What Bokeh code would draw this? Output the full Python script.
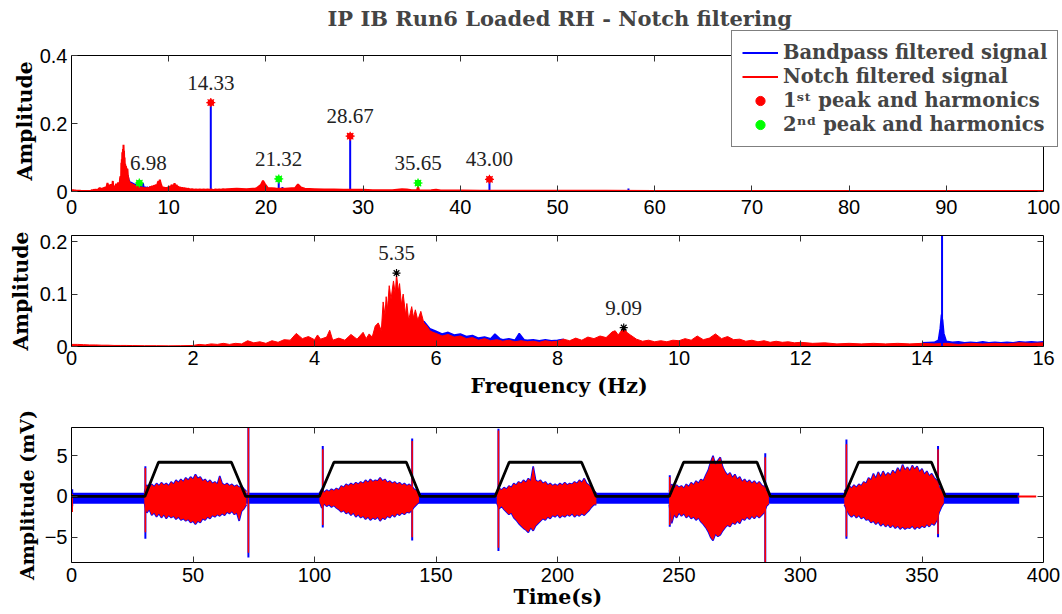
import numpy as np
from bokeh.plotting import figure
from bokeh.models import (Range1d, FixedTicker, LinearAxis, Legend, LegendItem,
                          ColumnDataSource, CustomLabelingPolicy, Title)
from bokeh.layouts import column
from bokeh.embed import file_html
from bokeh.resources import INLINE
from bokeh.core.properties import value

TITLE = "IP IB Run6 Loaded RH - Notch filtering"

# ---------------- spectrum data ----------------
SPEC_F = [0.0, 0.1, 0.2, 0.3, 0.4, 0.5, 0.6, 0.7, 0.8, 0.9, 1.0, 1.2, 1.4, 1.6, 1.8,
          2.0, 2.1, 2.2, 2.3, 2.4, 2.5, 2.6, 2.7, 2.8, 2.9, 3.0, 3.1, 3.2, 3.3, 3.4,
          3.5, 3.6, 3.7, 3.8, 3.9, 4.0, 4.05, 4.1, 4.2, 4.25, 4.3, 4.4, 4.5, 4.6, 4.7,
          4.8, 4.85, 4.9, 4.95, 5.0, 5.05, 5.1, 5.13, 5.16, 5.18, 5.2, 5.23, 5.26, 5.3,
          5.33, 5.35, 5.38, 5.4, 5.43, 5.46, 5.5, 5.52, 5.55, 5.6, 5.63, 5.66, 5.7,
          5.75, 5.8, 5.85, 5.9, 5.95, 6.0, 6.1, 6.2, 6.3, 6.4, 6.5, 6.6, 6.7, 6.8,
          6.9, 7.0, 7.1, 7.2, 7.3, 7.4, 7.5, 7.6, 7.7, 7.8, 7.9, 8.0, 8.1, 8.2, 8.3,
          8.4, 8.5, 8.6, 8.7, 8.8, 8.9, 8.95, 9.0, 9.05, 9.09, 9.15, 9.2, 9.3, 9.4,
          9.5, 9.6, 9.7, 9.8, 9.9, 10.0, 10.1, 10.2, 10.3, 10.4, 10.5, 10.6, 10.7,
          10.8, 10.9, 11.0, 11.1, 11.2, 11.3, 11.4, 11.5, 11.6, 11.7, 11.8, 11.9,
          12.0, 12.2, 12.4, 12.6, 12.8, 13.0, 13.2, 13.4, 13.6, 13.8, 14.0, 14.2,
          14.4, 14.6, 14.8, 15.0, 15.2, 15.4, 15.6, 15.8, 16.0]
SPEC_RED = [0.004, 0.004, 0.0035, 0.003, 0.003, 0.0025, 0.0025, 0.002, 0.002, 0.002,
            0.0018, 0.0015, 0.0015, 0.0012, 0.0015,
            0.002, 0.004, 0.003, 0.005, 0.004, 0.006, 0.004, 0.006, 0.005, 0.011,
            0.007, 0.009, 0.006, 0.011, 0.008,
            0.013, 0.012, 0.025, 0.015, 0.019, 0.013, 0.022, 0.014, 0.018, 0.031,
            0.012, 0.016, 0.012, 0.023, 0.014,
            0.027, 0.015, 0.024, 0.018, 0.039, 0.045, 0.03, 0.085, 0.06, 0.095,
            0.07, 0.116, 0.09, 0.125,
            0.1, 0.138, 0.105, 0.12, 0.08, 0.1, 0.06, 0.082, 0.05, 0.076, 0.055, 0.07,
            0.05, 0.067, 0.045, 0.039, 0.03, 0.027, 0.025, 0.02, 0.023, 0.018, 0.02,
            0.015, 0.017, 0.012, 0.015,
            0.011, 0.013, 0.01, 0.012, 0.009, 0.011, 0.009, 0.01, 0.008, 0.011,
            0.009, 0.01, 0.014, 0.011, 0.016,
            0.012, 0.018, 0.015, 0.02, 0.017, 0.028, 0.03, 0.022, 0.03, 0.035,
            0.026, 0.022, 0.014, 0.01,
            0.012, 0.009, 0.011, 0.009, 0.012, 0.011, 0.015, 0.012, 0.02, 0.013,
            0.016, 0.024, 0.015,
            0.019, 0.013, 0.014, 0.01, 0.012, 0.009, 0.011, 0.008, 0.01, 0.008,
            0.009, 0.007,
            0.008, 0.006, 0.007, 0.005, 0.006, 0.005, 0.006, 0.005, 0.006, 0.005,
            0.006, 0.005,
            0.006, 0.004, 0.006, 0.005, 0.006, 0.005, 0.007, 0.006, 0.007]

SPEC_F_HIGH = [17, 18, 19, 19.5, 19.7, 19.9, 20.2, 21, 22, 23, 23.3, 23.6, 24, 25,
               26, 27, 28, 29, 30, 31, 32, 33, 34, 34.5, 35, 35.55, 35.65, 35.75,
               36, 37, 37.5, 38, 39, 40, 42, 44, 46, 48, 50, 55, 60, 65, 70, 75,
               80, 85, 90, 95, 100]
SPEC_RED_HIGH = [0.008, 0.007, 0.009, 0.02, 0.032, 0.022, 0.01, 0.009, 0.008, 0.01,
                 0.021, 0.012, 0.008, 0.007, 0.006, 0.006, 0.005, 0.005, 0.005,
                 0.004, 0.004, 0.004, 0.007, 0.006, 0.004, 0.004, 0.015, 0.004,
                 0.003, 0.004, 0.005, 0.003, 0.003, 0.003, 0.002, 0.002, 0.002,
                 0.002, 0.002, 0.002, 0.0015, 0.0015, 0.0015, 0.0015, 0.0015,
                 0.0015, 0.0015, 0.0015, 0.0015]

BLUE_F_MID = [5.8, 5.9, 6.0, 6.1, 6.2, 6.3, 6.4, 6.5, 6.6, 6.7, 6.8, 6.9, 6.97,
              7.05, 7.1, 7.2, 7.3, 7.37, 7.45, 7.5, 7.6, 7.7, 7.8, 7.9, 8.0, 8.1]
BLUE_MID = [0.048, 0.034, 0.029, 0.024, 0.027, 0.022, 0.024, 0.019, 0.021, 0.016,
            0.018, 0.015, 0.024, 0.015, 0.013, 0.015, 0.012, 0.025, 0.013, 0.012,
            0.013, 0.011, 0.013, 0.011, 0.012, 0.014]

BLUE_F_14 = [14.0, 14.2, 14.27, 14.3, 14.32, 14.34, 14.36, 14.4, 14.5, 14.6, 14.7,
             14.8, 14.9, 15.0, 15.1, 15.2, 15.3, 15.4, 15.5, 15.6, 15.7, 15.8,
             15.9, 16.0]
BLUE_14 = [0.007, 0.008, 0.012, 0.035, 0.061, 0.05, 0.025, 0.01, 0.008, 0.009,
           0.007, 0.008, 0.007, 0.009, 0.007, 0.008, 0.007, 0.008, 0.007, 0.009,
           0.008, 0.009, 0.008, 0.009]

HARM_F = [6.98, 14.33, 21.32, 21.7, 28.67, 43.00, 50.0, 57.3]
HARM_BLUE = [0.022, 0.262, 0.028, 0.013, 0.163, 0.036, 0.004, 0.009]

PEAK1_F = [14.33, 28.67, 43.00]
PEAK1_A = [0.262, 0.163, 0.036]
PEAK1_TXT = ["14.33", "28.67", "43.00"]
PEAK2_F = [6.98, 21.32, 35.65]
PEAK2_A = [0.025, 0.037, 0.025]
PEAK2_TXT = ["6.98", "21.32", "35.65"]

LOW_PEAK_F = [5.35, 9.09]
LOW_PEAK_A = [0.140, 0.036]
LOW_PEAK_TXT = ["5.35", "9.09"]

# ---------------- time signal ----------------
BURST_START = [30, 102, 175, 246, 318]
BURST_UP = [
    [0.5, 1.4, 1.0, 1.5, 1.2, 1.6, 1.3, 1.7, 1.4, 1.6, 1.3, 1.8, 1.5, 2.0, 1.7, 2.1,
     1.8, 2.3, 2.0, 2.4, 2.1, 2.7, 2.2, 2.4, 1.9, 2.1, 1.7, 2.0, 1.6, 1.8, 1.5, 2.5,
     1.6, 1.4, 1.6, 1.3, 1.5, 1.2, 1.4, 1.1, 1.3, 0.9, 0.6],
    [0.4, 0.9, 0.5, 0.8, 0.6, 0.9, 0.7, 1.0, 0.8, 1.3, 1.1, 1.5, 1.3, 1.6, 1.4, 1.7,
     1.5, 1.8, 1.6, 2.0, 1.7, 2.1, 1.8, 2.0, 1.9, 2.3, 1.9, 2.1, 1.7, 1.9, 1.6, 1.8,
     1.5, 1.7, 1.4, 1.6, 1.3, 1.5, 1.2, 0.9, 0.7, 0.5],
    [0.5, 1.0, 0.8, 1.1, 0.9, 1.3, 1.1, 1.6, 1.4, 1.8, 1.6, 2.0, 1.7, 2.2, 1.9, 3.7,
     2.0, 1.8, 2.0, 1.6, 1.8, 1.4, 1.6, 1.3, 1.5, 1.3, 1.6, 1.4, 1.7, 1.4, 1.6, 1.5,
     1.8, 1.6, 2.0, 1.7, 2.2, 1.6, 1.4, 1.0, 0.7, 0.4],
    [0.6, 1.5, 1.0, 1.4, 1.1, 1.3, 1.0, 1.5, 1.2, 1.7, 1.4, 1.9, 1.6, 2.1, 1.9, 2.6,
     3.2, 4.2, 5.0, 3.9, 4.4, 4.8, 3.6, 3.0, 2.6, 2.9, 2.3, 2.7, 2.1, 2.4, 1.8, 2.1,
     1.7, 2.0, 1.6, 1.9, 1.5, 1.8, 1.4, 1.2, 0.7, 0.5],
    [0.6, 1.0, 1.3, 1.0, 1.4, 1.1, 1.5, 1.3, 1.8, 1.6, 2.3, 2.0, 2.8, 2.2, 3.0, 2.4,
     3.1, 2.5, 2.9, 2.6, 3.2, 2.8, 3.5, 3.0, 3.9, 3.2, 3.6, 3.1, 3.8, 3.3, 3.7, 3.0,
     3.4, 2.7, 3.1, 2.5, 2.8, 2.3, 2.0, 1.2, 0.8, 0.5],
]
BURST_LO = [
    [-0.8, -2.0, -1.6, -2.3, -2.0, -2.5, -2.1, -2.6, -2.2, -2.7, -2.3, -2.6, -2.4,
     -2.8, -2.5, -2.9, -2.7, -3.0, -2.8, -3.2, -3.0, -3.4, -3.0, -3.2, -2.7, -2.9,
     -2.5, -2.7, -2.3, -2.5, -2.2, -2.4, -2.1, -2.3, -1.9, -2.1, -1.8, -2.2, -2.0,
     -3.0, -1.8, -1.5, -1.0],
    [-0.6, -1.4, -0.9, -1.2, -1.0, -1.3, -1.1, -1.4, -1.6, -1.9, -1.7, -2.1, -1.9,
     -2.3, -2.0, -2.5, -2.2, -2.6, -2.4, -2.8, -2.5, -2.9, -2.6, -2.8, -2.5, -3.0,
     -2.6, -2.8, -2.4, -2.6, -2.2, -2.5, -2.1, -2.3, -2.0, -2.2, -1.9, -2.0, -1.7,
     -1.3, -1.0, -0.7],
    [-0.8, -1.5, -1.2, -1.6, -1.9, -2.2, -2.0, -2.6, -2.9, -3.3, -3.6, -3.9, -4.1,
     -4.4, -3.8, -4.2, -3.6, -3.3, -3.0, -2.7, -2.9, -2.5, -2.7, -2.3, -2.5, -2.2,
     -2.6, -2.3, -2.5, -2.2, -2.4, -2.1, -2.5, -2.2, -2.4, -2.1, -2.3, -2.0, -1.7,
     -1.3, -1.0, -1.0],
    [-1.0, -3.3, -2.2, -2.6, -2.0, -2.4, -2.1, -2.6, -2.3, -2.7, -2.5, -2.9, -2.6,
     -3.1, -3.4, -3.8, -4.3, -5.0, -5.4, -4.6, -4.9, -4.7, -4.2, -3.8, -3.5, -3.7,
     -3.2, -3.4, -3.0, -3.3, -2.7, -2.9, -2.5, -2.8, -2.4, -2.7, -2.3, -2.6, -2.3,
     -2.0, -1.2, -0.9],
    [-1.0, -1.6, -2.2, -2.5, -2.2, -2.6, -2.3, -2.7, -2.5, -2.9, -2.8, -3.2, -3.0,
     -3.4, -3.1, -3.6, -3.3, -3.7, -3.4, -3.8, -3.5, -3.9, -3.6, -4.0, -3.7, -4.0,
     -3.8, -3.9, -3.6, -4.0, -3.7, -3.9, -3.6, -3.8, -3.4, -3.7, -3.3, -3.5, -3.0,
     -2.0, -1.3, -0.8],
]
SPIKE_T = [0.3, 30.4, 72.8, 103.4, 140.2, 175.7, 246.2, 285.5, 318.9, 356.6]
SPIKE_BLUE_TOP = [0.9, 3.7, 8.45, 6.2, 7.1, 8.3, 2.6, 5.3, 7.0, 6.2]
SPIKE_BLUE_BOT = [-1.2, -5.2, -7.5, -3.8, -5.4, -6.7, -3.7, -8.1, -5.2, -5.0]
SPIKE_RED_TOP = [0.3, 3.5, 8.45, 5.8, 6.8, 8.1, 2.4, 4.8, 6.4, 5.8]
SPIKE_RED_BOT = [-1.9, -4.4, -6.9, -3.5, -5.0, -6.3, -3.5, -8.1, -4.9, -4.6]

BLUE_BASE_T = [0, 390]
BLUE_BASE_UP = [0.45, 0.45]
BLUE_BASE_LO = [-0.9, -0.9]
RED_TAIL_T = [389.5, 397]
RED_TAIL_Y = [0, 0]

TRAP_T = [0, 30.2, 35.8, 65.8, 71.7, 102, 108, 137.8, 143.5, 174.3, 180.1, 209.9,
          215.9, 246, 251.9, 282.1, 287.6, 317.9, 323.9, 353.9, 359.6, 389.3]
TRAP_Y = [0, 0, 4.2, 4.2, 0, 0, 4.2, 4.2, 0, 0, 4.2, 4.2, 0, 0, 4.2, 4.2, 0, 0,
          4.2, 4.2, 0, 0]

# axis limits
X1 = (0, 100)
Y1 = (0, 0.4)
X2 = (0, 16)
Y2 = (0, 0.2117)
X3 = (0, 400)
Y3 = (-8.1, 8.46)

RED = "#ff0000"
BLUE = "#0000ff"
GREEN = "#00ff00"
SERIF = "DejaVu Serif"
NUMFONT = "Liberation Serif"
SANS = "Liberation Sans"
LABEL_SIZE = "20.5px"

# page geometry (pixels): the axes box of every panel spans BOX_L..BOX_R;
# the Bokeh frames reach FRAME_R so that the legend can overhang the box.
BOX_L, BOX_R, FRAME_R, PAGE_W = 71, 1043, 1058, 1062

NO_LABELS = CustomLabelingPolicy(code="""
for (const i of indices) { indices.unset(i) }
return indices
""")


def extend(rng, box_px, frame_px):
    return (rng[0], rng[0] + (rng[1] - rng[0]) * frame_px / box_px)


def mirror_axis(ticks, loc=None, bounds="auto"):
    ax = LinearAxis(ticker=FixedTicker(ticks=ticks), major_tick_in=6,
                    major_tick_out=0, minor_tick_line_color=None,
                    major_label_text_font_size="1px", major_label_standoff=0,
                    major_label_policy=NO_LABELS, bounds=bounds,
                    axis_line_color="black", major_tick_line_color="#333333")
    if loc is not None:
        ax.fixed_location = loc
    return ax


def side_title(text, offset, valign, standoff=0):
    return Title(text=text, align="left", offset=offset, vertical_align=valign,
                 standoff=standoff, text_font=SERIF, text_font_style="bold",
                 text_font_size=LABEL_SIZE, text_color="black")


def boxed_fig(height, X, Y, top, bottom, xticks, yticks, xstand, yover, y_ext=None):
    xr = extend(X, BOX_R - BOX_L, FRAME_R - BOX_L)
    yr = Y if y_ext is None else y_ext
    p = figure(width=PAGE_W, height=height, x_range=Range1d(*xr),
               y_range=Range1d(*yr), output_backend="svg", toolbar_location=None,
               min_border_left=BOX_L, min_border_right=PAGE_W - FRAME_R,
               min_border_top=top, min_border_bottom=bottom)
    p.xgrid.visible = False
    p.ygrid.visible = False
    p.outline_line_color = None
    p.background_fill_color = "white"
    p.border_fill_color = "white"
    xa = p.xaxis[0]
    ya = p.yaxis[0]
    for ax, ticks in ((xa, xticks), (ya, yticks)):
        ax.ticker = FixedTicker(ticks=ticks)
        ax.major_tick_in = 6
        ax.major_tick_out = 0
        ax.minor_tick_line_color = None
        ax.axis_line_color = "black"
        ax.major_tick_line_color = "#333333"
        ax.major_label_text_font = SANS
        ax.major_label_text_font_size = "20px"
        ax.major_label_text_color = "black"
        ax.axis_label_text_font = SERIF
        ax.axis_label_text_font_style = "bold"
        ax.axis_label_text_font_size = LABEL_SIZE
        ax.axis_label_text_color = "black"
    xa.bounds = X
    ya.bounds = Y
    xa.major_label_standoff = xstand
    ya.major_label_standoff = 4
    ya.major_label_overrides = yover
    # top and right sides of the box (ticks pointing inwards)
    p.add_layout(mirror_axis(xticks, None if y_ext is None else Y[1], X), "above")
    p.add_layout(mirror_axis(yticks, X[1], Y), "right")
    return p


# ---------------- plot 1 : full spectrum ----------------
P1_H, F1_TOP, F1_BOTTOM, BOX1_TOP = 231, 30, 191, 55.3
y1_ext = extend(Y1, F1_BOTTOM - BOX1_TOP, F1_BOTTOM - F1_TOP)
p1 = boxed_fig(P1_H, X1, Y1, F1_TOP, P1_H - F1_BOTTOM, list(range(0, 101, 10)),
               [0, 0.2, 0.4], 8, {0: "0", 0.2: "0.2", 0.4: "0.4"}, y_ext=y1_ext)
p1.title.text = TITLE
p1.title.align = "left"
p1.title.offset = 327 - BOX_L
p1.title.text_font = SERIF
p1.title.text_font_style = "bold"
p1.title.text_font_size = "21px"
p1.title.standoff = 0
# y label of the (shorter) axes box, placed along the box
p1.add_layout(side_title("Amplitude", F1_BOTTOM - 180, "bottom"), "left")

full_f = SPEC_F + SPEC_F_HIGH
full_a = SPEC_RED + SPEC_RED_HIGH
p1.varea(x=BLUE_F_MID, y1=0, y2=BLUE_MID, fill_color=BLUE)
p1.line(x=BLUE_F_MID, y=BLUE_MID, line_color=BLUE, line_width=1.5)
r_blue = p1.segment(x0=HARM_F, y0=[0] * len(HARM_F), x1=HARM_F, y1=HARM_BLUE,
                    line_color=BLUE, line_width=2)
p1.varea(x=full_f, y1=0, y2=full_a, fill_color=RED)
r_red = p1.line(x=full_f, y=full_a, line_color=RED, line_width=2)
r_dot1 = p1.scatter(x=PEAK1_F, y=PEAK1_A, marker="circle", size=6, fill_color=RED,
                    line_color=RED)
r_dot2 = p1.scatter(x=PEAK2_F, y=PEAK2_A, marker="circle", size=6, fill_color=GREEN,
                    line_color=GREEN)
p1.scatter(x=PEAK1_F, y=PEAK1_A, marker="asterisk", size=9, line_color=RED,
           line_width=1.2)
p1.scatter(x=PEAK2_F, y=PEAK2_A, marker="asterisk", size=9, line_color=GREEN,
           line_width=1.2)
lab_dx_1 = [0, 0, 0]
lab_dx_2 = [9, 0, 0]
src_l1 = ColumnDataSource(dict(x=PEAK1_F + PEAK2_F, y=PEAK1_A + PEAK2_A,
                               t=PEAK1_TXT + PEAK2_TXT, dx=lab_dx_1 + lab_dx_2))
p1.text(x="x", y="y", text="t", x_offset="dx", y_offset=-20, source=src_l1,
        text_font=value(NUMFONT), text_font_size="21px", text_align="center",
        text_baseline="middle", text_color="#222222")

legend = Legend(items=[
    LegendItem(label="Bandpass filtered signal", renderers=[r_blue]),
    LegendItem(label="Notch filtered signal", renderers=[r_red]),
    LegendItem(label="1\u02e2\u1d57 peak and harmonics", renderers=[r_dot1]),
    LegendItem(label="2\u207f\u1d48 peak and harmonics", renderers=[r_dot2]),
], location=(731 - BOX_L, F1_BOTTOM - 147))
legend.label_text_font = SERIF
legend.label_text_font_style = "bold"
legend.label_text_font_size = "19.5px"
legend.glyph_width = 36
legend.glyph_height = 23
legend.label_height = 23
legend.label_standoff = 5
legend.padding = 10
legend.spacing = 1
legend.margin = 0
legend.border_line_color = "black"
legend.border_line_width = 1
legend.background_fill_alpha = 1
p1.add_layout(legend, "center")

# ---------------- plot 2 : zoomed spectrum ----------------
p2 = boxed_fig(175, X2, Y2, 3, 58, list(range(0, 17, 2)), [0, 0.1, 0.2], 4,
               {0: "0"})
p2.yaxis[0].axis_label = "Amplitude"
p2.yaxis[0].axis_label_standoff = 4
p2.add_layout(side_title("Frequency (Hz)", 470 - BOX_L, "top", 13), "below")
p2.varea(x=BLUE_F_MID, y1=0, y2=BLUE_MID, fill_color=BLUE)
p2.line(x=BLUE_F_MID, y=BLUE_MID, line_color=BLUE, line_width=1.5)
p2.varea(x=BLUE_F_14, y1=0, y2=BLUE_14, fill_color=BLUE)
p2.line(x=BLUE_F_14, y=BLUE_14, line_color=BLUE, line_width=1.5)
p2.varea(x=SPEC_F, y1=0, y2=SPEC_RED, fill_color=RED)
p2.line(x=SPEC_F, y=SPEC_RED, line_color=RED, line_width=1)
p2.segment(x0=[HARM_F[1]], y0=[0], x1=[HARM_F[1]], y1=[HARM_BLUE[1]],
           line_color=BLUE, line_width=2)
p2.scatter(x=LOW_PEAK_F, y=LOW_PEAK_A, marker="asterisk", size=8, line_color="black",
           line_width=1.2)
p2.text(x=LOW_PEAK_F, y=LOW_PEAK_A, text=LOW_PEAK_TXT, y_offset=-20,
        text_font=value(NUMFONT), text_font_size="21px", text_align="center",
        text_baseline="middle", text_color="#222222")

# ---------------- plot 3 : time signal ----------------
p3 = boxed_fig(208, X3, Y3, 21, 52, list(range(0, 401, 50)), [-5, 0, 5], 5,
               {-5: "\u22125"})
p3.yaxis[0].axis_label = "Amplitude (mV)"
p3.yaxis[0].axis_label_standoff = 4
p3.yaxis[0].axis_label_text_font_size = "19px"
p3.add_layout(side_title("Time(s)", 513 - BOX_L, "top", 0), "below")
p3.varea(x=BLUE_BASE_T, y1=BLUE_BASE_LO, y2=BLUE_BASE_UP, fill_color=BLUE)
for t0, up, lo in zip(BURST_START, BURST_UP, BURST_LO):
    t = list(np.arange(len(up)) + t0)
    p3.line(x=t, y=up, line_color=BLUE, line_width=1.6)
    p3.line(x=t, y=lo, line_color=BLUE, line_width=1.6)
p3.segment(x0=SPIKE_T, y0=SPIKE_BLUE_BOT, x1=SPIKE_T, y1=SPIKE_BLUE_TOP,
           line_color=BLUE, line_width=2)
for t0, up, lo in zip(BURST_START, BURST_UP, BURST_LO):
    t = list(np.arange(len(up)) + t0)
    p3.varea(x=t, y1=lo, y2=up, fill_color=RED)
p3.segment(x0=SPIKE_T, y0=SPIKE_RED_BOT, x1=SPIKE_T, y1=SPIKE_RED_TOP,
           line_color=RED, line_width=1.5)
p3.line(x=RED_TAIL_T, y=RED_TAIL_Y, line_color=RED, line_width=2)
p3.line(x=TRAP_T, y=TRAP_Y, line_color="black", line_width=2.8)

layout = column(p1, p2, p3, spacing=0)
open("out.html", "w").write(file_html(layout, INLINE))
